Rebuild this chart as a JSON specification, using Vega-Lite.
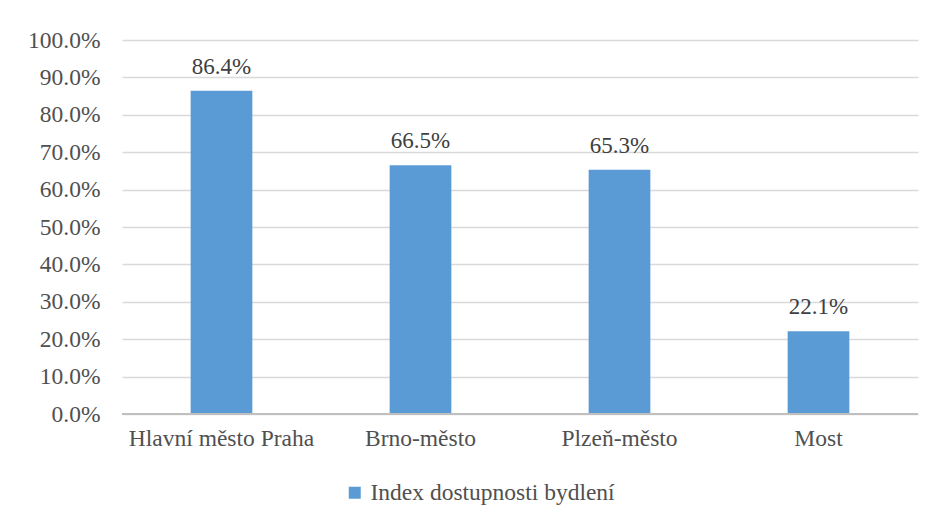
{
  "$schema": "https://vega.github.io/schema/vega-lite/v6.json",
  "autosize": {"type": "none"},
  "width": 796,
  "height": 374,
  "padding": {"left": 122, "top": 40, "right": 16, "bottom": 108},
  "background": "white",
  "config": {
    "view": {"stroke": null},
    "font": "Liberation Serif",
    "axis": {"labelFont": "Liberation Serif"},
    "legend": {"labelFont": "Liberation Serif"}
  },
  "data": {
    "values": [
      {"region": "Hlavní město Praha", "value": 0.864, "series": "Index dostupnosti bydlení"},
      {"region": "Brno-město", "value": 0.665, "series": "Index dostupnosti bydlení"},
      {"region": "Plzeň-město", "value": 0.653, "series": "Index dostupnosti bydlení"},
      {"region": "Most", "value": 0.221, "series": "Index dostupnosti bydlení"}
    ]
  },
  "encoding": {
    "x": {
      "field": "region",
      "type": "nominal",
      "sort": null,
      "scale": {"paddingInner": 0.69, "paddingOuter": 0.345},
      "axis": {
        "title": null,
        "labelAngle": 0,
        "labelFontSize": 23.5,
        "labelColor": "#505050",
        "labelPadding": 12,
        "labelLimit": 300,
        "ticks": false,
        "domain": false,
        "grid": false
      }
    },
    "y": {
      "field": "value",
      "type": "quantitative",
      "scale": {"domain": [0, 1], "nice": false},
      "axis": {
        "title": null,
        "format": ".1%",
        "values": [0, 0.1, 0.2, 0.3, 0.4, 0.5, 0.6, 0.7, 0.8, 0.9, 1.0],
        "labelFontSize": 23.5,
        "labelColor": "#505050",
        "labelPadding": 22,
        "ticks": false,
        "domain": false,
        "grid": true,
        "gridColor": "#d9d9d9",
        "gridWidth": 1.3
      }
    }
  },
  "layer": [
    {
      "mark": {"type": "bar", "color": "#5B9BD5"},
      "encoding": {
        "color": {
          "field": "series",
          "type": "nominal",
          "scale": {"range": ["#5B9BD5"]},
          "legend": {
            "title": null,
            "orient": "none",
            "legendX": 221,
            "legendY": 441,
            "symbolType": "square",
            "symbolSize": 144,
            "symbolStrokeWidth": 0,
            "labelFontSize": 23.5,
            "labelLimit": 400,
            "labelColor": "#505050",
            "labelOffset": 4
          }
        }
      }
    },
    {
      "mark": {"type": "rule", "color": "#bfbfbf", "strokeWidth": 1.5},
      "encoding": {
        "x": {"value": 0},
        "x2": {"value": 796},
        "y": {"datum": 0}
      }
    },
    {
      "mark": {"type": "text", "baseline": "alphabetic", "dy": -17, "fontSize": 23, "color": "#404040", "font": "Liberation Serif"},
      "encoding": {
        "text": {"field": "value", "type": "quantitative", "format": ".1%"}
      }
    }
  ]
}
